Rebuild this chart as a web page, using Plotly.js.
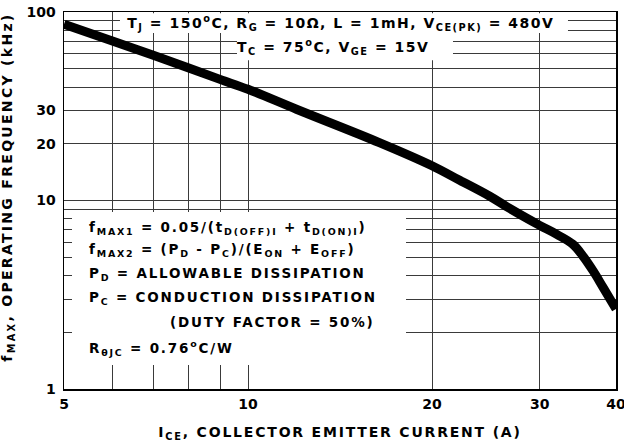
<!DOCTYPE html>
<html>
<head>
<meta charset="utf-8">
<script src="https://cdn.plot.ly/plotly-3.0.1.min.js"></script>
<style>
html,body{margin:0;padding:0;background:#fff;}
#chart{width:624px;height:445px;}
#chart .annotation-text, #chart .xtitle { letter-spacing: 1.8px; }
#chart .cond .annotation-text { letter-spacing: 1.5px; }
#chart .ytl .annotation-text { letter-spacing: 2.3px; }
</style>
</head>
<body>
<div id="chart"></div>
<script>
// Collector emitter current (A)
const currentA = [5, 6, 7, 8, 9, 10, 12, 16.4, 20, 22.2, 24.9, 26.8, 30, 32, 34, 35.3, 36.7, 38.1, 40];
// Operating frequency fMAX (kHz)
const freqKHz = [86, 70.2, 58.9, 50.5, 43.9, 38.9, 30.5, 20.3, 15.3, 12.8, 10.5, 9.07, 7.38, 6.61, 5.86, 5.08, 4.23, 3.46, 2.66];

const xTickVals = [5, 6, 7, 8, 9, 10, 20, 30, 40];
const xTickText = ["5", "", "", "", "", "10", "20", "30", "40"];
const yTickVals = [1, 2, 3, 4, 5, 6, 7, 8, 9, 10, 20, 30, 40, 50, 60, 70, 80, 90, 100];
const yTickText = ["1", "", "", "", "", "", "", "", "", "10", "20", "30", "", "", "", "", "", "", "100"];

const titleX = "I<sub>CE</sub>, COLLECTOR EMITTER CURRENT (A)";
const titleY = "f<sub>MAX</sub>, OPERATING FREQUENCY (kHz)";
const condLine1 = "T<sub>J</sub> = 150<sup>o</sup>C, R<sub>G</sub> = 10\u03A9, L = 1mH, V<sub>CE(PK)</sub> = 480V";
const condLine2 = "T<sub>C</sub> = 75<sup>o</sup>C, V<sub>GE</sub> = 15V";
const noteLines = [
  "f<sub>MAX1</sub> = 0.05/(t<sub>D(OFF)I</sub> + t<sub>D(ON)I</sub>)",
  "f<sub>MAX2</sub> = (P<sub>D</sub> - P<sub>C</sub>)/(E<sub>ON</sub> + E<sub>OFF</sub>)",
  "P<sub>D</sub> = ALLOWABLE DISSIPATION",
  "P<sub>C</sub> = CONDUCTION DISSIPATION",
  "(DUTY FACTOR = 50%)",
  "R<sub>\u03B8JC</sub> = 0.76<sup>o</sup>C/W"
];

const FONT = "DejaVu Sans, Liberation Sans, Arial, sans-serif";
const gridC = "#3a3a3a";

const trace = {
  x: currentA, y: freqKHz, type: "scatter", mode: "lines",
  line: {color: "#000", width: 9, shape: "spline", smoothing: 1.0},
  hoverinfo: "skip"
};

const noteY = [0.427, 0.369, 0.305, 0.241, 0.178, 0.109];
const noteX = [0.0417, 0.0417, 0.0417, 0.0417, 0.188, 0.0417];
const annotations = [
  {text: condLine1, xref: "paper", yref: "paper", x: 0.5027, y: 0.971, showarrow: false, xanchor: "center", yanchor: "middle", font: {size: 14}},
  {text: condLine2, xref: "paper", yref: "paper", x: 0.488, y: 0.907, showarrow: false, xanchor: "center", yanchor: "middle", font: {size: 14}},
  {text: titleY, xref: "paper", yref: "paper", x: -0.1, y: 0.535, textangle: -90, showarrow: false, xanchor: "center", yanchor: "middle", font: {size: 14}}
];
noteLines.forEach((t, i) => annotations.push({
  text: t, xref: "paper", yref: "paper", x: noteX[i], y: noteY[i], showarrow: false,
  xanchor: "left", yanchor: "middle", align: "left", font: {size: 13.5}
}));

const mask = (x0, x1, y0, y1) => ({type: "rect", xref: "paper", yref: "paper", x0, x1, y0, y1,
  fillcolor: "#fff", line: {width: 0}, layer: "above"});

const layout = {
  width: 624, height: 445,
  margin: {l: 64, r: 8, t: 12, b: 56},
  paper_bgcolor: "#fff", plot_bgcolor: "#fff",
  font: {family: FONT, size: 13, color: "#000", weight: "bold"},
  showlegend: false,
  xaxis: {
    type: "log", range: [Math.log10(5), Math.log10(40)],
    tickmode: "array", tickvals: xTickVals, ticktext: xTickText,
    showgrid: true, gridcolor: gridC, gridwidth: 1,
    showline: true, linecolor: "#000", linewidth: 1.5, mirror: true,
    ticks: "", zeroline: false, ticklabeloverflow: "allow", ticklabelstandoff: 2,
    tickfont: {size: 14, weight: "bold"},
    title: {text: titleX, font: {size: 14, weight: "bold"}, standoff: 16}
  },
  yaxis: {
    type: "log", range: [0, 2],
    tickmode: "array", tickvals: yTickVals, ticktext: yTickText,
    showgrid: true, gridcolor: gridC, gridwidth: 1,
    showline: true, linecolor: "#000", linewidth: 1.5, mirror: true,
    ticks: "", zeroline: false, ticklabeloverflow: "allow", ticklabelstandoff: 4,
    tickfont: {size: 14, weight: "bold"}
  },
  shapes: [
    mask(0.1014, 0.913, 0.944, 0.997),
    mask(0.3134, 0.7047, 0.872, 0.944),
    mask(0.0145, 0.6196, 0.0637, 0.4695)
  ],
  annotations: annotations
};

Plotly.newPlot("chart", [trace], layout, {displayModeBar: false, staticPlot: true}).then(function () {
  const anns = document.querySelectorAll("#chart .annotation");
  if (anns[0]) anns[0].classList.add("cond");
  if (anns[1]) anns[1].classList.add("cond");
  if (anns[2]) anns[2].classList.add("ytl");
});
</script>
</body>
</html>
